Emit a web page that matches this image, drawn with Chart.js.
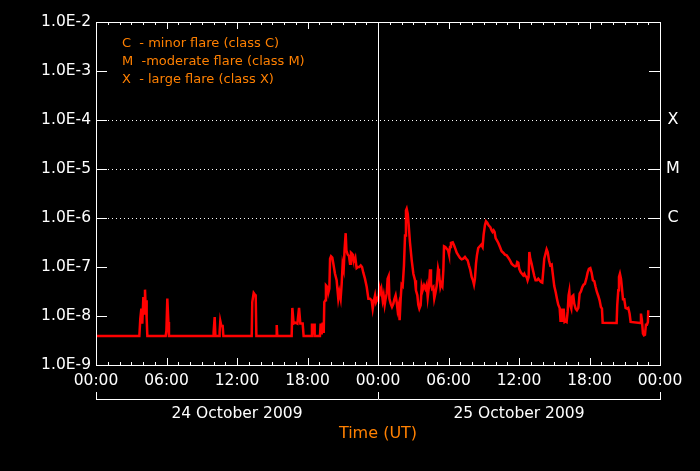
<!DOCTYPE html>
<html lang="en">
<head>
  <meta charset="UTF-8">
  <title>GOES X-ray flux - 24/25 October 2009</title>
  <script src="https://cdn.jsdelivr.net/npm/chart.js"></script>
  <style>
    html, body { margin: 0; padding: 0; background: #000; }
    #wrap { position: relative; width: 700px; height: 471px; }
  </style>
</head>
<body>
  <div id="wrap"><canvas id="flux"></canvas></div>

  <script>
    // hours since 24 Oct 2009 00:00 UT
    const hours = [
      0, 3.69, 3.77, 3.86, 3.94, 4.03, 4.11, 4.17, 4.23, 4.26, 4.31, 4.37,
      5.93, 5.99, 6.07, 6.16, 6.21, 9.96, 10.01, 10.10, 10.16, 10.47, 10.52, 10.58,
      10.67, 10.78, 10.84, 13.25, 13.30, 13.42, 13.50, 13.59, 13.65, 15.32, 15.38, 15.43,
      16.65, 16.71, 16.82, 16.96, 17.14, 17.28, 17.39, 17.59, 17.67, 18.33, 18.38, 18.47,
      18.56, 18.61, 19.06, 19.12, 19.21, 19.29, 19.38, 19.43, 19.52, 19.57, 19.69, 19.77,
      19.86, 19.92, 20.00, 20.11, 20.20, 20.34, 20.48, 20.62, 20.71, 20.82, 20.91, 20.99,
      21.08, 21.16, 21.25, 21.31, 21.42, 21.53, 21.62, 21.70, 21.79, 21.87, 21.99, 22.07,
      22.18, 22.30, 22.41, 22.53, 22.64, 22.75, 22.89, 23.04, 23.18, 23.32, 23.46, 23.55,
      23.66, 23.75, 23.83, 23.94, 24.03, 24.11, 24.20, 24.28, 24.40, 24.48, 24.57, 24.65,
      24.74, 24.82, 24.91, 24.97, 25.08, 25.19, 25.31, 25.39, 25.50, 25.59, 25.67, 25.76,
      25.84, 25.93, 26.01, 26.10, 26.21, 26.30, 26.38, 26.44, 26.53, 26.61, 26.72, 26.87,
      27.01, 27.15, 27.23, 27.35, 27.43, 27.52, 27.63, 27.72, 27.80, 27.92, 28.03, 28.14,
      28.23, 28.34, 28.43, 28.51, 28.60, 28.71, 28.79, 28.88, 28.99, 29.11, 29.19, 29.31,
      29.39, 29.48, 29.56, 29.62, 29.73, 29.84, 29.96, 30.04, 30.13, 30.21, 30.36, 30.47,
      30.58, 30.70, 30.84, 30.98, 31.12, 31.26, 31.40, 31.55, 31.63, 31.74, 31.85, 31.97,
      32.08, 32.17, 32.25, 32.34, 32.42, 32.53, 32.68, 32.79, 32.90, 32.99, 33.10, 33.19,
      33.30, 33.41, 33.56, 33.67, 33.75, 33.84, 33.92, 34.01, 34.12, 34.24, 34.38, 34.52,
      34.66, 34.80, 34.95, 35.09, 35.23, 35.37, 35.51, 35.66, 35.77, 35.85, 35.94, 36.02,
      36.14, 36.25, 36.36, 36.45, 36.53, 36.65, 36.73, 36.82, 36.88, 36.96, 37.07, 37.19,
      37.30, 37.41, 37.53, 37.64, 37.75, 37.87, 37.98, 38.07, 38.15, 38.27, 38.35, 38.44,
      38.55, 38.66, 38.78, 38.89, 39.00, 39.12, 39.23, 39.34, 39.46, 39.54, 39.63, 39.71,
      39.80, 39.88, 39.97, 40.05, 40.14, 40.22, 40.28, 40.36, 40.45, 40.53, 40.62, 40.70,
      40.82, 40.93, 41.05, 41.16, 41.27, 41.39, 41.50, 41.61, 41.73, 41.84, 41.95, 42.07,
      42.18, 42.29, 42.41, 42.52, 42.63, 42.75, 42.86, 42.97, 43.06, 43.12, 44.31, 44.36,
      44.45, 44.51, 44.59, 44.68, 44.76, 44.85, 44.96, 45.07, 45.19, 45.30, 45.41, 45.50,
      46.32, 46.38, 46.46, 46.55, 46.63, 46.72, 46.80, 46.89, 46.97, 47.00
    ];

    // X-ray flux (W/m2)
    const flux = [
      3.9e-9, 3.9e-9, 8.8e-9, 1.41e-8, 7.0e-9, 2.44e-8, 1.12e-8, 3.45e-8, 1.41e-8, 2.09e-8, 9.25e-9, 3.9e-9,
      3.9e-9, 4.94e-9, 2.26e-8, 7.55e-9, 3.9e-9, 3.9e-9, 4.7e-9, 9.5e-9, 3.9e-9, 3.9e-9, 4.7e-9, 7.9e-9,
      6.25e-9, 6.25e-9, 3.9e-9, 3.9e-9, 1.93e-8, 2.95e-8, 2.77e-8, 2.64e-8, 3.9e-9, 3.9e-9, 6.55e-9, 3.9e-9,
      3.9e-9, 1.46e-8, 7.0e-9, 7.3e-9, 7.0e-9, 1.46e-8, 7.0e-9, 7.0e-9, 3.9e-9, 3.9e-9, 7.0e-9, 4.2e-9,
      7.0e-9, 3.9e-9, 3.9e-9, 7.0e-9, 4.2e-9, 7.3e-9, 4.5e-9, 1.93e-8, 2.09e-8, 4.22e-8, 3.9e-8, 2.95e-8,
      3.61e-8, 1.48e-7, 1.65e-7, 1.55e-7, 1.17e-7, 7.3e-8, 5.35e-8, 2.26e-8, 3.09e-8, 2.26e-8, 4.57e-8, 1.13e-7,
      8.96e-8, 2.37e-7, 4.9e-7, 2.19e-7, 1.79e-7, 1.68e-7, 1.17e-7, 1.96e-7, 1.87e-7, 1.53e-7, 1.37e-7, 1.55e-7,
      9.5e-8, 1.0e-7, 1.0e-7, 1.08e-7, 1.0e-7, 7.66e-8, 5.78e-8, 3.9e-8, 2.26e-8, 2.26e-8, 2.09e-8, 1.41e-8,
      2.09e-8, 2.64e-8, 1.93e-8, 2.26e-8, 2.09e-8, 3.9e-8, 3.09e-8, 3.61e-8, 2.09e-8, 2.64e-8, 1.70e-8, 2.26e-8,
      2.86e-8, 5.78e-8, 6.55e-8, 2.26e-8, 1.79e-8, 1.53e-8, 1.79e-8, 2.19e-8, 2.64e-8, 1.93e-8, 1.31e-8, 1.65e-8,
      8.2e-9, 2.26e-8, 4.36e-8, 4.09e-8, 1.08e-7, 4.4e-7, 1.43e-6, 1.55e-6, 1.22e-6, 7.3e-7, 3.2e-7, 1.37e-7,
      7.3e-8, 5.35e-8, 3.34e-8, 2.64e-8, 1.70e-8, 1.41e-8, 1.65e-8, 4.03e-8, 3.34e-8, 4.22e-8, 3.61e-8, 4.36e-8,
      2.44e-8, 4.09e-8, 8.96e-8, 4.57e-8, 3.61e-8, 3.9e-8, 2.26e-8, 2.86e-8, 4.09e-8, 9.2e-8, 7.3e-8, 3.9e-8,
      4.57e-8, 4.09e-8, 8.55e-8, 2.64e-7, 2.56e-7, 2.37e-7, 2.19e-7, 1.81e-7, 2.56e-7, 3.1e-7, 3.2e-7, 2.77e-7,
      2.37e-7, 1.96e-7, 1.73e-7, 1.53e-7, 1.43e-7, 1.48e-7, 1.6e-7, 1.43e-7, 1.37e-7, 1.08e-7, 8.8e-8, 6.25e-8,
      5.35e-8, 4.36e-8, 5.78e-8, 1.17e-7, 1.73e-7, 2.44e-7, 2.68e-7, 2.86e-7, 2.56e-7, 4.6e-7, 7.1e-7, 8.55e-7,
      8.0e-7, 7.1e-7, 6.5e-7, 5.6e-7, 5.2e-7, 5.6e-7, 5.2e-7, 3.9e-7, 3.5e-7, 3.1e-7, 2.56e-7, 2.09e-7,
      1.96e-7, 1.79e-7, 1.73e-7, 1.55e-7, 1.37e-7, 1.17e-7, 1.08e-7, 1.03e-7, 1.05e-7, 1.26e-7, 1.22e-7, 9.2e-8,
      7.9e-8, 7.3e-8, 6.76e-8, 7.3e-8, 6.55e-8, 6.25e-8, 5.35e-8, 6.25e-8, 2.02e-7, 1.48e-7, 1.17e-7, 8.55e-8,
      6.55e-8, 5.35e-8, 5.35e-8, 5.78e-8, 5.35e-8, 4.94e-8, 4.79e-8, 8.55e-8, 1.48e-7, 1.93e-7, 2.3e-7, 2.02e-7,
      1.37e-7, 1.08e-7, 1.12e-7, 6.76e-8, 4.09e-8, 3.09e-8, 2.26e-8, 1.70e-8, 1.46e-8, 7.55e-9, 1.41e-8, 7.55e-9,
      1.41e-8, 7.55e-9, 7.8e-9, 7.55e-9, 1.21e-8, 2.64e-8, 3.18e-8, 1.65e-8, 1.41e-8, 2.52e-8, 2.64e-8, 1.79e-8,
      1.41e-8, 1.31e-8, 1.46e-8, 2.86e-8, 3.18e-8, 3.9e-8, 4.36e-8, 4.57e-8, 5.78e-8, 7.66e-8, 9.2e-8, 9.5e-8,
      7.66e-8, 5.35e-8, 5.1e-8, 3.9e-8, 3.09e-8, 2.56e-8, 2.09e-8, 1.53e-8, 1.41e-8, 7.3e-9, 7.2e-9, 1.65e-8,
      3.34e-8, 6.25e-8, 7.3e-8, 5.78e-8, 3.73e-8, 2.19e-8, 2.19e-8, 1.46e-8, 1.41e-8, 1.46e-8, 1.12e-8, 7.55e-9,
      7.2e-9, 1.12e-8, 8.2e-9, 4.35e-9, 4.03e-9, 4.16e-9, 6.65e-9, 6.65e-9, 7.55e-9, 1.31e-8
    ];

    const hourTicks = [0, 6, 12, 18, 24, 30, 36, 42, 48];
    const hourLabels = ['00:00', '06:00', '12:00', '18:00', '00:00', '06:00', '12:00', '18:00', '00:00'];
    const decades = [1e-9, 1e-8, 1e-7, 1e-6, 1e-5, 1e-4, 1e-3, 1e-2];
    const dayStarts = [0, 24, 48];
    const dayLabels = ['24 October 2009', '25 October 2009'];
    const flareLevels = [1e-4, 1e-5, 1e-6];
    const flareClasses = ['X', 'M', 'C'];
    const legendLines = [
      'C  - minor flare (class C)',
      'M  -moderate flare (class M)',
      'X  - large flare (class X)'
    ];
    const axisTitle = 'Time (UT)';

    const WHITE = '#ffffff';
    const ORANGE = '#ff8000';
    const FONT = '"DejaVu Sans", sans-serif';

    const px = v => Math.round(v) + 0.5;

    function hline(ctx, x1, x2, y) {
      ctx.beginPath();
      ctx.moveTo(x1, px(y));
      ctx.lineTo(x2, px(y));
      ctx.stroke();
    }
    function vline(ctx, x, y1, y2) {
      ctx.beginPath();
      ctx.moveTo(px(x), y1);
      ctx.lineTo(px(x), y2);
      ctx.stroke();
    }

    const decorations = {
      id: 'decorations',
      beforeDatasetsDraw(chart) {
        const { ctx, chartArea: a, scales } = chart;
        ctx.save();
        ctx.strokeStyle = WHITE;
        ctx.lineWidth = 1;
        ctx.setLineDash([1, 3]);
        flareLevels.forEach(v => hline(ctx, a.left + 12, a.right - 11, scales.y.getPixelForValue(v)));
        ctx.restore();
      },
      afterDatasetsDraw(chart) {
        const { ctx, chartArea: a, scales } = chart;
        const x = scales.x, y = scales.y;
        ctx.save();
        ctx.strokeStyle = WHITE;
        ctx.lineWidth = 1;

        // day boundary + frame
        vline(ctx, x.getPixelForValue(24), a.top, a.bottom);
        ctx.strokeRect(px(a.left), px(a.top), Math.round(a.right - a.left), Math.round(a.bottom - a.top));

        // hourly ticks, top and bottom, pointing in
        for (let h = 1; h < 48; h++) {
          const len = h % 6 === 0 ? 7 : 3;
          const xp = x.getPixelForValue(h);
          vline(ctx, xp, a.bottom - len, a.bottom);
          vline(ctx, xp, a.top, a.top + len);
        }
        // decade ticks, left and right
        decades.forEach(v => {
          const yp = y.getPixelForValue(v);
          hline(ctx, a.left, a.left + 11, yp);
          hline(ctx, a.right - 11, a.right, yp);
        });

        // flare class letters on the right
        ctx.fillStyle = WHITE;
        ctx.font = '16px ' + FONT;
        ctx.textAlign = 'center';
        ctx.textBaseline = 'middle';
        flareLevels.forEach((v, i) => ctx.fillText(flareClasses[i], a.right + 13, y.getPixelForValue(v)));

        // legend
        ctx.fillStyle = ORANGE;
        ctx.font = '13px ' + FONT;
        ctx.textAlign = 'left';
        legendLines.forEach((t, i) => ctx.fillText(t, a.left + 26, a.top + 22 + i * 18));

        // day bracket
        const by = a.bottom + 34;
        hline(ctx, px(x.getPixelForValue(0)) - 0.5, px(x.getPixelForValue(48)) + 0.5, by);
        dayStarts.forEach(d => vline(ctx, x.getPixelForValue(d), by - 7, by));

        ctx.fillStyle = WHITE;
        ctx.font = '15.5px ' + FONT;
        ctx.textAlign = 'center';
        dayLabels.forEach((t, i) => {
          const cx = (x.getPixelForValue(dayStarts[i]) + x.getPixelForValue(dayStarts[i + 1])) / 2;
          ctx.fillText(t, cx, a.bottom + 49);
        });

        ctx.fillStyle = ORANGE;
        ctx.font = '16px ' + FONT;
        ctx.fillText(axisTitle, x.getPixelForValue(24), a.bottom + 69);
        ctx.restore();
      }
    };

    new Chart(document.getElementById('flux'), {
      type: 'line',
      data: {
        datasets: [{
          data: hours.map((h, i) => ({ x: h, y: flux[i] })),
          borderColor: '#ff0000',
          borderWidth: 2.5,
          pointRadius: 0,
          tension: 0,
          fill: false
        }]
      },
      options: {
        responsive: true,
        maintainAspectRatio: false,
        animation: false,
        layout: { padding: { top: 22, right: 40, left: 0, bottom: 0 } },
        plugins: { legend: { display: false }, tooltip: { enabled: false } },
        scales: {
          x: {
            type: 'linear',
            min: 0,
            max: 48,
            afterBuildTicks: s => { s.ticks = hourTicks.map(v => ({ value: v })); },
            afterFit: s => { s.height = 106; },
            grid: { display: false, drawTicks: false },
            border: { display: false },
            ticks: {
              color: WHITE,
              font: { family: FONT, size: 15.5 },
              padding: 7,
              maxRotation: 0,
              autoSkip: false,
              callback: v => hourLabels[hourTicks.indexOf(v)]
            }
          },
          y: {
            type: 'logarithmic',
            min: 1e-9,
            max: 1e-2,
            afterBuildTicks: s => { s.ticks = decades.map(v => ({ value: v })); },
            afterFit: s => { s.width = 96; },
            grid: { display: false, drawTicks: false },
            border: { display: false },
            ticks: {
              color: WHITE,
              font: { family: FONT, size: 15.5 },
              padding: 5,
              autoSkip: false,
              callback: v => '1.0E-' + Math.round(-Math.log10(v))
            }
          }
        }
      },
      plugins: [decorations]
    });
  </script>
</body>
</html>
